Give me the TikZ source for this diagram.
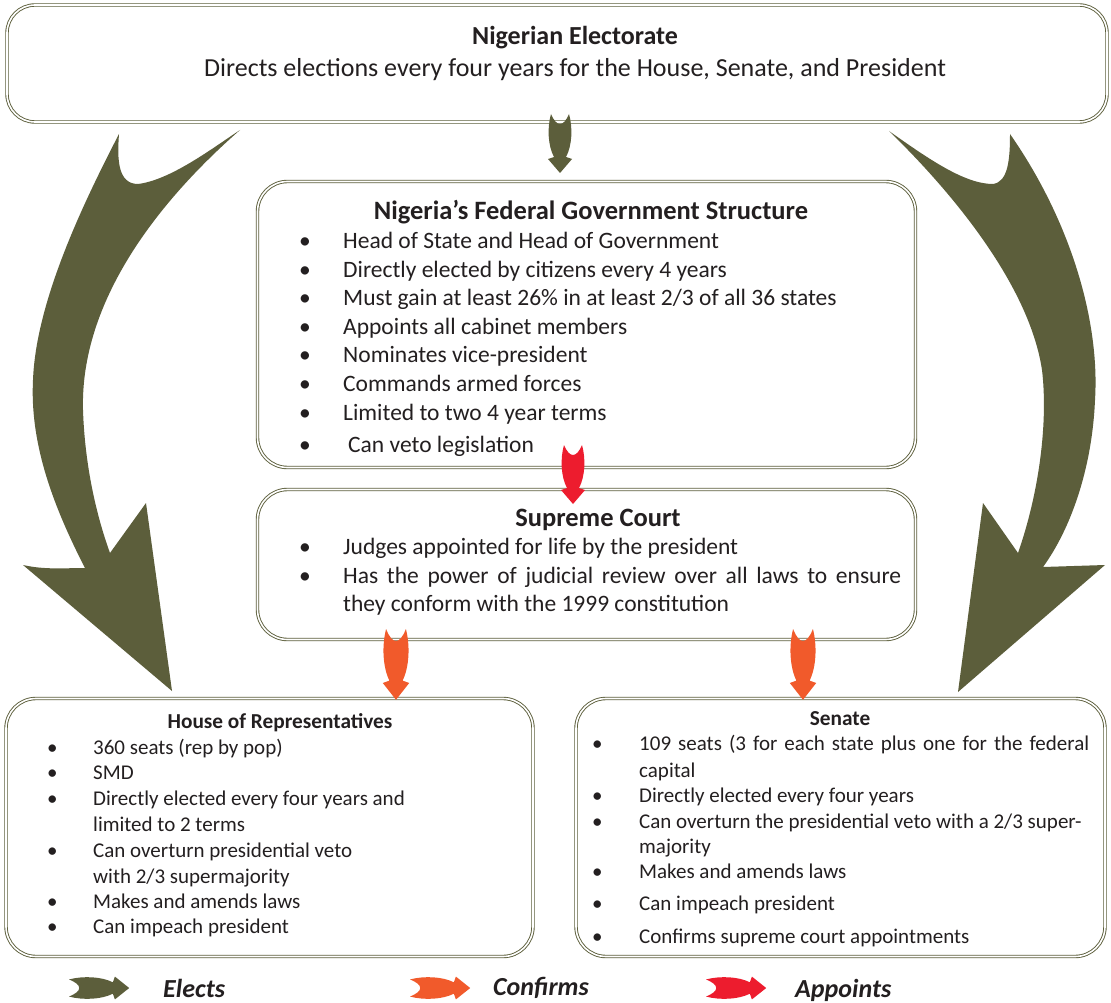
\documentclass[tikz,border=0pt]{standalone}
\usepackage{fontspec}
\setmainfont{Carlito}
\definecolor{olv}{HTML}{5C5E3B}
\definecolor{orng}{HTML}{F15A2B}
\definecolor{rd}{HTML}{ED1C2E}
\definecolor{ink}{HTML}{231F20}
\tikzset{
  box/.style={draw=olv, double=white, double distance=1.6pt, line width=0.9pt, fill=white, inner sep=0pt},
  txt/.style={inner sep=0pt, anchor=base west, text=ink},
  big/.style={txt, font=\fontsize{23.5}{28}\selectfont},
  small/.style={txt, font=\fontsize{21}{25}\selectfont},
  ttl/.style={inner sep=0pt, anchor=base, text=ink, font=\bfseries\fontsize{26.5}{30}\selectfont},
  sttl/.style={inner sep=0pt, anchor=base, text=ink, font=\bfseries\fontsize{21.3}{25}\selectfont},
  leg/.style={inner sep=0pt, anchor=base west, text=ink, font=\bfseries\itshape\fontsize{26}{30}\selectfont},
  notcharrow/.pic={
    \fill (-9,0) .. controls (-6,7) and (-3,10) .. (0,10) .. controls (3,10) and (6,7) .. (9,0)
      .. controls (13,14) and (12,32) .. (6,43) -- (12,45) -- (0,59) -- (-12,45) -- (-6,43)
      .. controls (-12,32) and (-13,14) .. (-9,0) -- cycle;
  },
}
\begin{document}
\begin{tikzpicture}[x=1pt,y=-1pt]
\useasboundingbox (0,0) rectangle (1111,1003);
\fill[white] (0,0) rectangle (1111,1003);

% ---------- big curved "elects" arrows ----------
\fill[olv] (119,134) .. controls (117,160) and (118,184) .. (138,184)
  .. controls (170,180) and (210,150) .. (240,130)
  .. controls (160,200) and (80,300) .. (83,410)
  .. controls (85,470) and (98,520) .. (110,553)
  -- (146,503) -- (172,691) -- (23,565)
  .. controls (45,570) and (65,568) .. (85,568)
  .. controls (50,500) and (30,440) .. (33,380)
  .. controls (36,300) and (85,200) .. (119,134) -- cycle;
\fill[olv] (889,131) .. controls (930,160) and (965,184) .. (993,184)
  .. controls (1008,182) and (1010,160) .. (1010,134)
  .. controls (1070,220) and (1100,320) .. (1095,400)
  .. controls (1092,470) and (1070,530) .. (1043,567)
  -- (1105,565) -- (958,692) -- (983,503) -- (1018,553)
  .. controls (1040,490) and (1048,420) .. (1042,370)
  .. controls (1030,290) and (960,200) .. (889,131) -- cycle;

% ---------- boxes ----------
\node[box, rounded corners=28pt, minimum width=1100pt, minimum height=117pt] (elect) at (557,63.5) {};
\node[box, rounded corners=30pt, minimum width=658pt, minimum height=286pt] (fed) at (586.5,324.5) {};
\node[box, rounded corners=30pt, minimum width=658pt, minimum height=150pt] (court) at (586.5,564.5) {};
\node[box, rounded corners=30pt, minimum width=527pt, minimum height=258pt] (house) at (269.5,827.5) {};
\node[box, rounded corners=30pt, minimum width=529pt, minimum height=258pt] (senate) at (840.5,827.5) {};

% ---------- small arrows ----------
\pic[olv] at (560,114) {notcharrow};
\pic[rd] at (573,445) {notcharrow};
\pic[orng, xscale=1.1, yscale=1.2] at (396,629) {notcharrow};
\pic[orng, xscale=1.1, yscale=1.2] at (803,629) {notcharrow};

% ---------- top box text ----------
\node[ttl, font=\bfseries\fontsize{26}{30}\selectfont] (electT) at (575,45) {Nigerian Electorate};
\node[inner sep=0pt, anchor=base, text=ink, font=\fontsize{26}{30}\selectfont] (electS) at (575,77) {Directs elections every four years for the House, Senate, and President};

% ---------- federal ----------
\node[ttl] (fedT) at (591,220) {Nigeria’s Federal Government Structure};
\foreach \y/\t [count=\i] in {248/{Head of State and Head of Government},
  277/{Directly elected by citizens every 4 years},
  305/{Must gain at least 26\% in at least 2/3 of all 36 states},
  334/{Appoints all cabinet members},
  362/{Nominates vice-president},
  391/{Commands armed forces},
  420/{Limited to two 4 year terms}}{
  \node[big] (fb\i) at (299,\y) {•};
  \node[big] (ft\i) at (343,\y) {\t};
}
\node[big] (fb8) at (299,452) {•};
\node[big] (ft8) at (348,452) {Can veto legislation};

% ---------- supreme court ----------
\node[ttl] (courtT) at (598,526) {Supreme Court};
\node[big] (cb1) at (299,554) {•};
\node[big] (ct1) at (343,554) {Judges appointed for life by the president};
\node[big] (cb2) at (299,583) {•};
\node[big] (ct2) at (343,583) {\makebox[558pt][s]{Has the power of judicial review over all laws to ensure}};
\node[big] (ct3) at (343,611) {they conform with the 1999 constitution};

% ---------- house ----------
\node[sttl] (houseT) at (280,728) {House of Representatives};
\node[small] (hb1) at (47,754.5) {•};
\node[small] (ht1) at (93,754.5) {360 seats (rep by pop)};
\node[small] (hb2) at (47,779.5) {•};
\node[small] (ht2) at (93,779.5) {SMD};
\node[small] (hb3) at (47,805.5) {•};
\node[small] (ht3) at (93,805.5) {Directly elected every four years and};
\node[small] (ht3b) at (93,831.5) {limited to 2 terms};
\node[small] (hb4) at (47,857.5) {•};
\node[small] (ht4) at (93,857.5) {Can overturn presidential veto};
\node[small] (ht4b) at (93,883.5) {with 2/3 supermajority};
\node[small] (hb5) at (47,908.5) {•};
\node[small] (ht5) at (93,908.5) {Makes and amends laws};
\node[small] (hb6) at (47,933.5) {•};
\node[small] (ht6) at (93,933.5) {Can impeach president};

% ---------- senate ----------
\node[sttl] (senT) at (840,725) {Senate};
\node[small] (sb1) at (592,750) {•};
\node[small] (st1) at (639,750) {\makebox[450pt][s]{109 seats (3 for each state plus one for the federal}};
\node[small] (st1b) at (639,777) {capital};
\node[small] (sb2) at (592,802) {•};
\node[small] (st2) at (639,802) {Directly elected every four years};
\node[small] (sb3) at (592,828) {•};
\node[small] (st3) at (639,828) {Can overturn the presidential veto with a 2/3 super-};
\node[small] (st3b) at (639,853) {majority};
\node[small] (sb4) at (592,878) {•};
\node[small] (st4) at (639,878) {Makes and amends laws};
\node[small] (sb5) at (592,910) {•};
\node[small] (st5) at (639,910) {Can impeach president};
\node[small] (sb6) at (592,943) {•};
\node[small] (st6) at (639,943) {Confirms supreme court appointments};

% ---------- legend ----------
\pic[olv, rotate=90, xscale=0.95, yscale=1.02] at (69,988) {notcharrow};
\pic[orng, rotate=90, xscale=0.95, yscale=1.02] at (410,988) {notcharrow};
\pic[rd, rotate=90, xscale=0.95, yscale=1.02] at (706,988) {notcharrow};
\node[leg] (lE) at (163,997) {Elects};
\node[leg] (lC) at (493,995) {Confirms};
\node[leg] (lA) at (795,997) {Appoints};
\end{tikzpicture}
\end{document}
